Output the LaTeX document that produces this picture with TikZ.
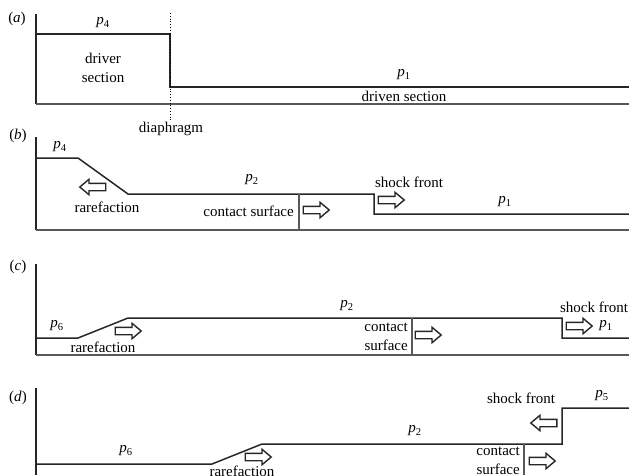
\documentclass[tikz,border=0pt]{standalone}
\usepackage{fontspec}
\setmainfont{Liberation Serif}
\usetikzlibrary{shapes.arrows}
\tikzset{
  wave/.style={line width=1.5pt, black!85, line join=miter},
  base/.style={line width=1.2pt, black!65},
  lbl/.style={font=\fontsize{15}{18.5}\selectfont, inner sep=1pt},
  openarrow/.style={single arrow, draw=black!85, line width=1.4pt, fill=white,
    minimum height=26pt, inner sep=3pt, single arrow head extend=4pt,
    single arrow tip angle=80},
  backarrow/.style={openarrow, shape border rotate=180},
}
\newcommand{\pres}[1]{\textit{p}\textsubscript{#1}}

\begin{document}
\begin{tikzpicture}[x=1pt, y=-1pt]
    \useasboundingbox (0,0) rectangle (629,475);
    \clip (0,0) rectangle (629,475);

    % (a) before the diaphragm bursts
    \draw[wave] (36,14) -- (36,104);
    \draw[wave] (36,34) -- (170,34) -- (170,87) -- (629,87);
    \draw[base] (36,104) -- (629,104);
    \draw[dotted, thick] (170,13) -- (170,121);
    \node[lbl] (tagA) at (17,19) {(\textit{a})};
    \node[lbl] (pFourA) at (103,23) {\pres{4}};
    \node[lbl, align=center] (driver) at (103,68) {driver\\section};
    \node[lbl] (pOneA) at (404,75) {\pres{1}};
    \node[lbl] (driven) at (404,96) {driven section};
    \node[lbl] (diaphragm) at (171,129) {diaphragm};

    % (b) shock and rarefaction moving apart
    \draw[wave] (36,137) -- (36,230);
    \draw[wave] (36,158) -- (78,158) -- (128,194) -- (374,194) -- (374,214) -- (629,214);
    \draw[base] (36,230) -- (629,230);
    \draw[base] (299,194) -- (299,230);
    \node[lbl] (tagB) at (18,136) {(\textit{b})};
    \node[lbl] (pFourB) at (60,147) {\pres{4}};
    \node[backarrow] (rareB) at (95,187) {};
    \node[lbl] (rareTxtB) at (107,207) {rarefaction};
    \node[lbl] (pTwoB) at (252,180) {\pres{2}};
    \node[lbl, anchor=east] (contactB) at (295,211) {contact surface};
    \node[openarrow] (contArrB) at (314,210) {};
    \node[lbl] (shockB) at (409,182) {shock front};
    \node[openarrow] (shockArrB) at (389,200) {};
    \node[lbl] (pOneB) at (505,202) {\pres{1}};

    % (c) rarefaction reflected from the end wall
    \draw[wave] (36,264) -- (36,355);
    \draw[wave] (36,338) -- (78,338) -- (128,318) -- (562,318) -- (562,338) -- (629,338);
    \draw[base] (36,355) -- (629,355);
    \draw[base] (412,318) -- (412,355);
    \node[lbl] (tagC) at (18,267) {(\textit{c})};
    \node[lbl] (pSixC) at (57,326) {\pres{6}};
    \node[openarrow] (rareC) at (126,331) {};
    \node[lbl] (rareTxtC) at (103,347) {rarefaction};
    \node[lbl] (pTwoC) at (347,306) {\pres{2}};
    \node[lbl, anchor=east, align=right] (contactC) at (409,337) {contact\\surface};
    \node[openarrow] (contArrC) at (426,335) {};
    \node[lbl] (shockC) at (594,307) {shock front};
    \node[openarrow] (shockArrC) at (577,326) {};
    \node[lbl] (pOneC) at (606,326) {\pres{1}};

    % (d) shock reflected from the end wall
    \draw[wave] (36,388) -- (36,475);
    \draw[wave] (36,464) -- (212,464) -- (262,444) -- (562,444) -- (562,408) -- (629,408);
    \draw[base] (524,444) -- (524,475);
    \node[lbl] (tagD) at (18,398) {(\textit{d})};
    \node[lbl] (pSixD) at (126,451) {\pres{6}};
    \node[openarrow] (rareD) at (256,457) {};
    \node[lbl] (rareTxtD) at (242,471) {rarefaction};
    \node[lbl] (pTwoD) at (415,431) {\pres{2}};
    \node[lbl, anchor=east, align=right] (contactD) at (521,461) {contact\\surface};
    \node[openarrow] (contArrD) at (540,461) {};
    \node[lbl] (shockD) at (521,398) {shock front};
    \node[backarrow] (shockArrD) at (546,423) {};
    \node[lbl] (pFiveD) at (602,396) {\pres{5}};
\end{tikzpicture}
\end{document}
